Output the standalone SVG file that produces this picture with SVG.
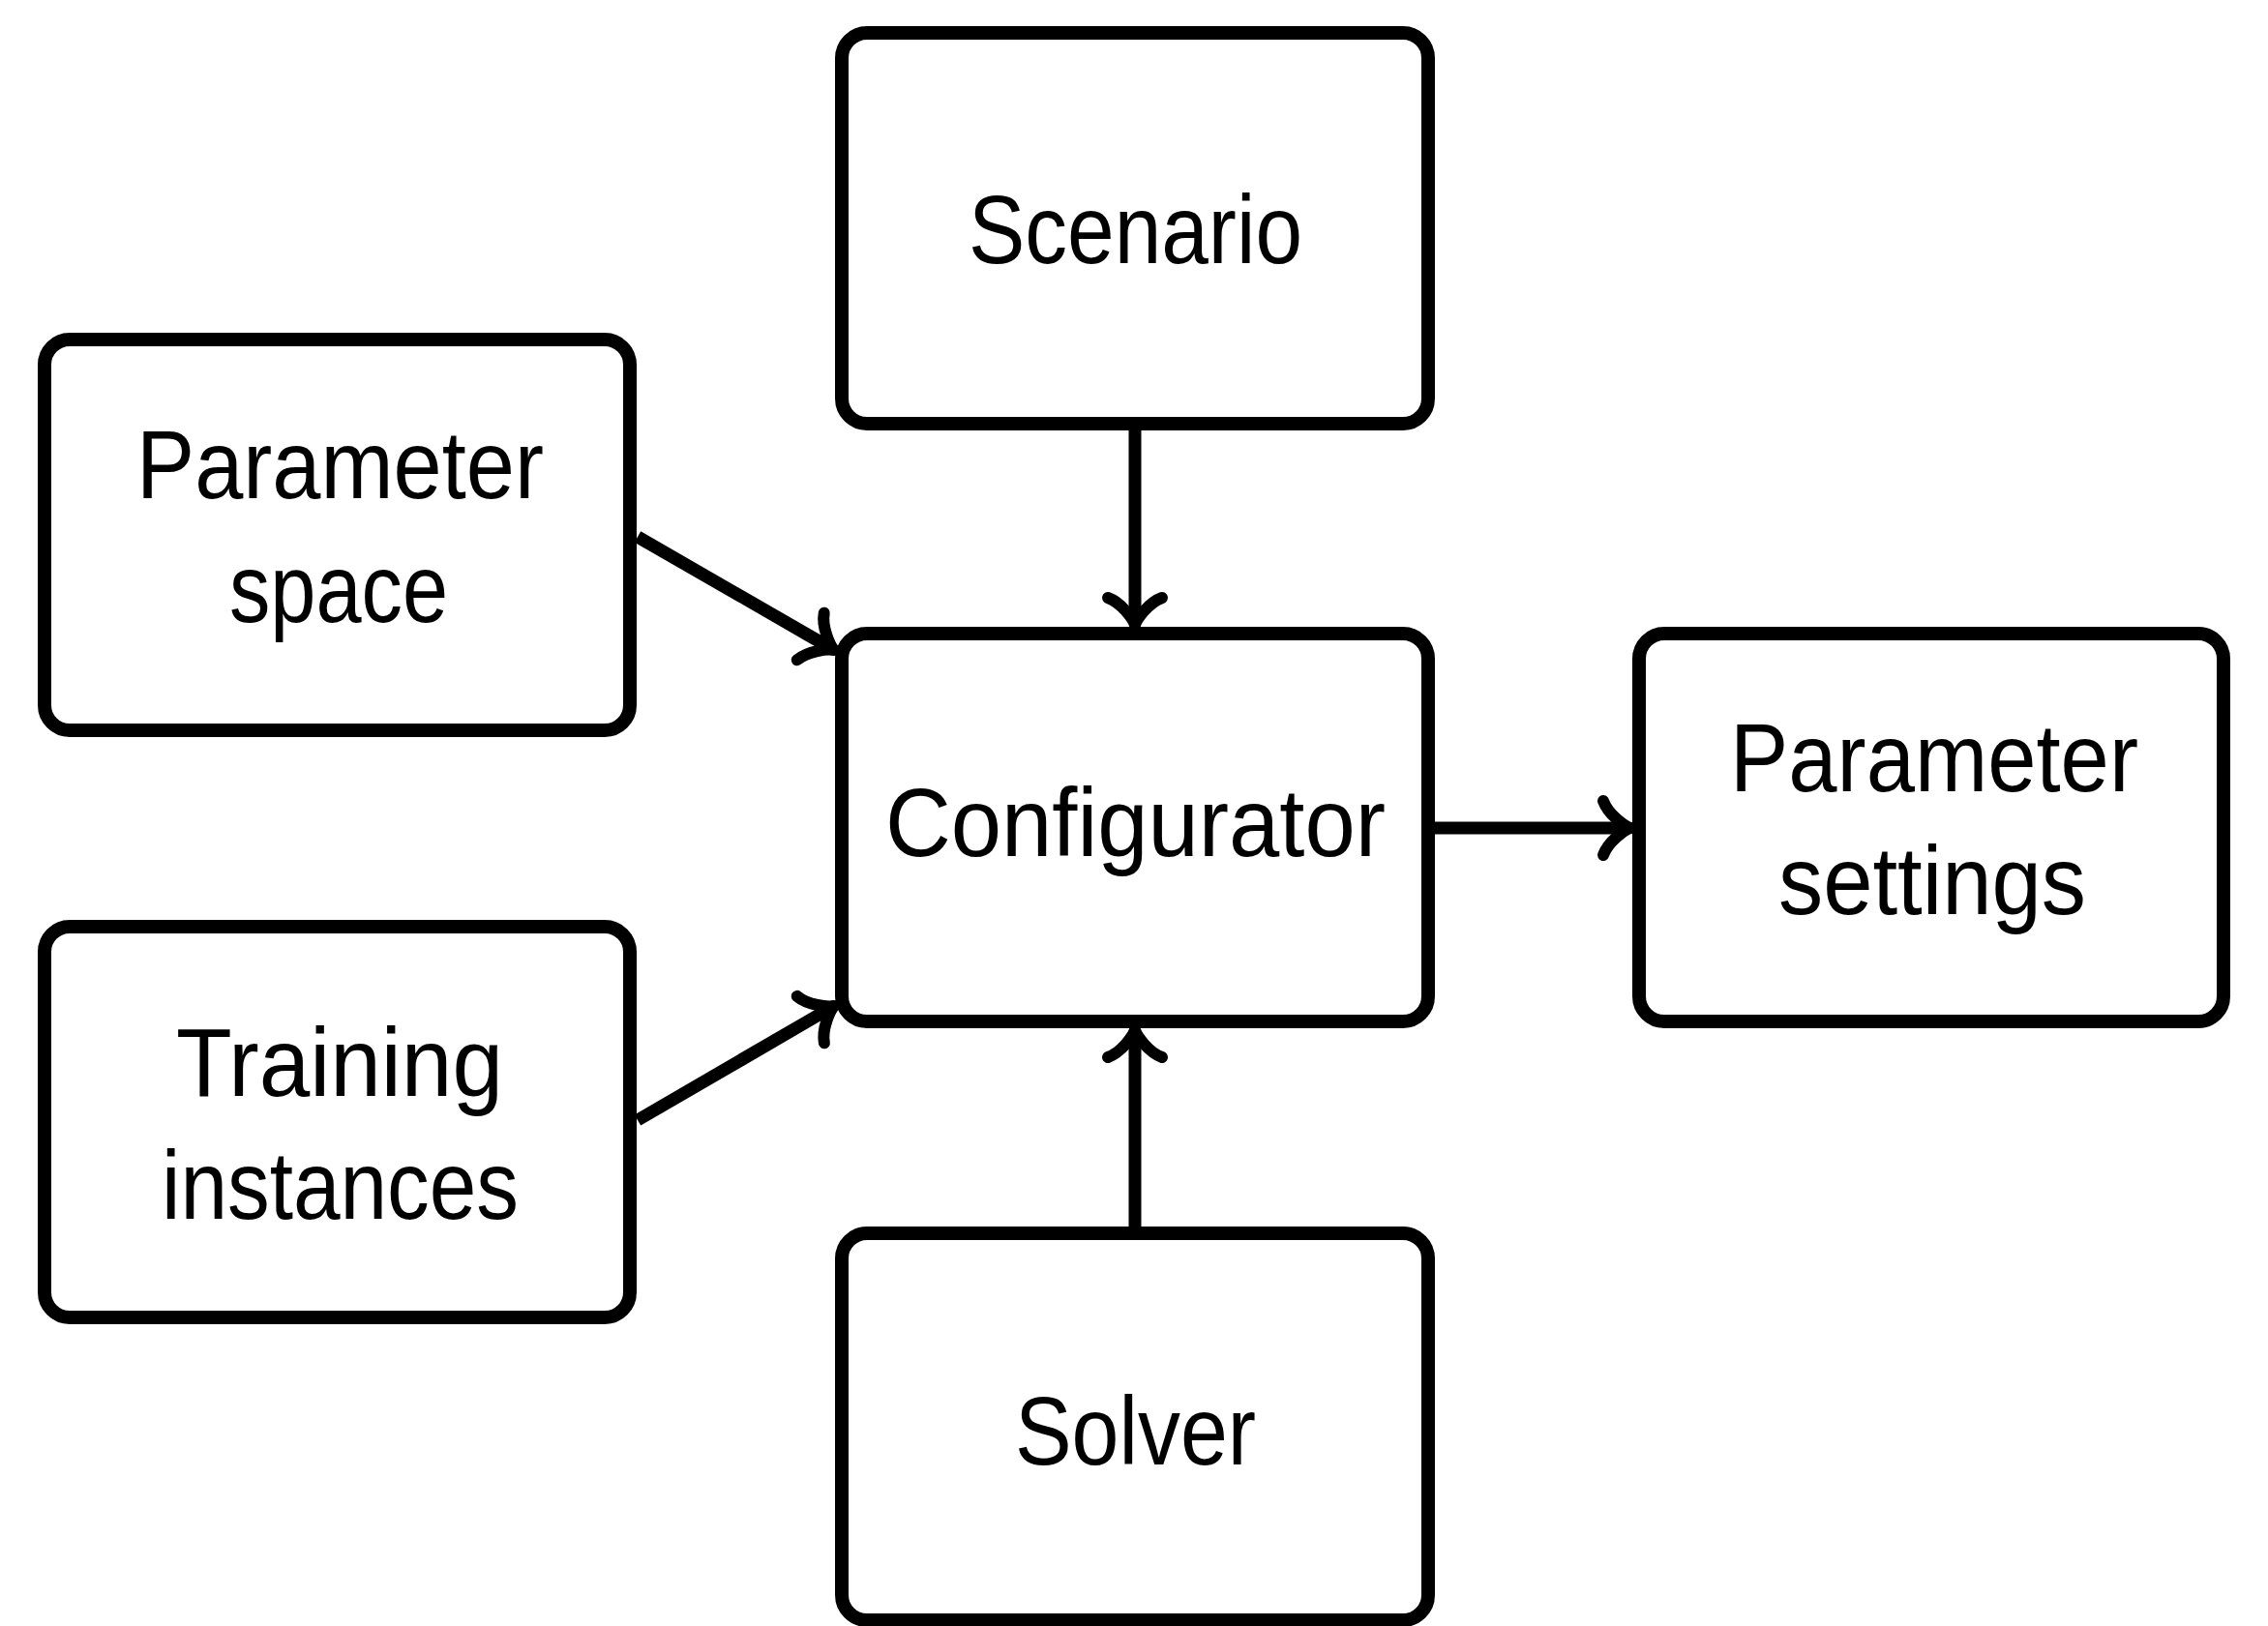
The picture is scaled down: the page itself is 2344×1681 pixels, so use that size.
<svg xmlns="http://www.w3.org/2000/svg" width="2344" height="1681" viewBox="0 0 2344 1681">
<style>
.box{fill:#fff;stroke:#000;stroke-width:14}
.lbl{font-family:"Liberation Sans",Arial,sans-serif;font-size:101px;fill:#000;text-anchor:middle}
.conn{fill:none;stroke:#000;stroke-width:13;marker-end:url(#arr)}
</style>
<defs>
<marker id="arr" markerUnits="userSpaceOnUse" viewBox="-40 -40 50 80" refX="-3" refY="0" markerWidth="50" markerHeight="80" orient="auto">
<path d="M-28,-28 C-23,-14 -6,-2 0,0 M-28,28 C-23,14 -6,2 0,0" fill="none" stroke="#000" stroke-width="12" stroke-linecap="round"/>
</marker>
</defs>
<rect width="2344" height="1681" fill="#fff"/>
<g id="connectors">
<line class="conn" x1="1173" y1="440" x2="1173" y2="643"/>
<line class="conn" x1="1173" y1="1273" x2="1173" y2="1068"/>
<line class="conn" x1="1480" y1="856" x2="1682" y2="856"/>
<line class="conn" x1="659" y1="555" x2="859.4" y2="670.5"/>
<line class="conn" x1="659" y1="1158" x2="859.4" y2="1041.5"/>
</g>
<g id="scenario">
<rect class="box" x="870" y="34" width="606" height="404" rx="26"/>
<text class="lbl" x="1173.5" y="272" textLength="345" lengthAdjust="spacingAndGlyphs">Scenario</text>
</g>
<g id="parameter-space">
<rect class="box" x="46" y="351" width="605" height="404" rx="26"/>
<text class="lbl" x="351.5" y="515" textLength="421" lengthAdjust="spacingAndGlyphs">Parameter</text>
<text class="lbl" x="350" y="643" textLength="226" lengthAdjust="spacingAndGlyphs">space</text>
</g>
<g id="configurator">
<rect class="box" x="870" y="655" width="606" height="401" rx="26"/>
<text class="lbl" x="1173.5" y="885" textLength="517" lengthAdjust="spacingAndGlyphs">Configurator</text>
</g>
<g id="parameter-settings">
<rect class="box" x="1694" y="655" width="604" height="401" rx="26"/>
<text class="lbl" x="1999" y="818" textLength="422" lengthAdjust="spacingAndGlyphs">Parameter</text>
<text class="lbl" x="1997" y="945" textLength="318" lengthAdjust="spacingAndGlyphs">settings</text>
</g>
<g id="training-instances">
<rect class="box" x="46" y="958" width="605" height="404" rx="26"/>
<text class="lbl" x="351" y="1133" textLength="338" lengthAdjust="spacingAndGlyphs">Training</text>
<text class="lbl" x="351.5" y="1260" textLength="369" lengthAdjust="spacingAndGlyphs">instances</text>
</g>
<g id="solver">
<rect class="box" x="870" y="1275" width="606" height="400" rx="26"/>
<text class="lbl" x="1173.5" y="1514" textLength="249" lengthAdjust="spacingAndGlyphs">Solver</text>
</g>
</svg>
